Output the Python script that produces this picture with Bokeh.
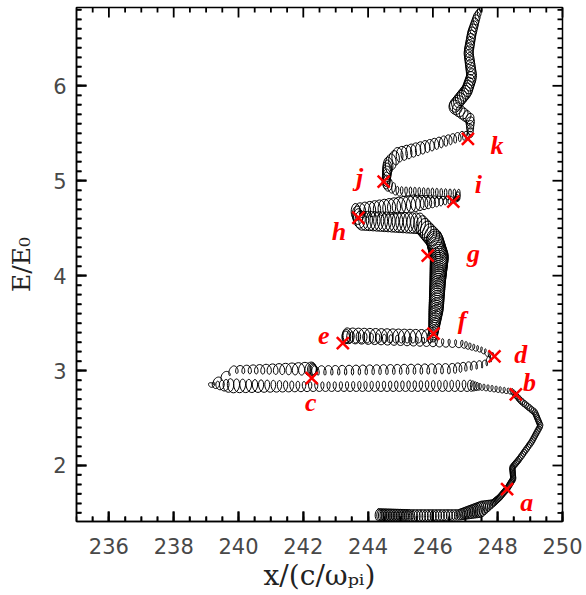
import numpy as np
from bokeh.plotting import figure
from bokeh.models import SingleIntervalTicker, Range1d
from bokeh.core.properties import value
from bokeh.embed import file_html
from bokeh.resources import INLINE

# Guiding-centre path of the ion, x in c/omega_pi, energy in E0 (time ordered)
gc_x = [244.30, 245.30, 246.80, 247.50, 247.85, 248.05, 248.30, 248.48, 248.45, 248.65,
        249.05, 249.32, 249.15, 248.72, 248.45, 247.45, 247.15, 242.40, 239.75, 239.10,
        239.85, 242.25, 242.35, 246.60, 247.60, 247.85, 247.50, 246.90, 243.30, 243.35,
        246.00, 246.10, 246.15, 246.20, 246.05, 245.60, 243.75, 243.60, 245.40, 246.70,
        246.80, 244.90, 244.55, 244.60, 244.90, 246.90, 247.15, 247.15, 246.65, 247.05,
        247.20, 247.10, 247.20, 247.35, 247.50]
gc_e = [1.48, 1.47, 1.48, 1.54, 1.60, 1.66, 1.76, 1.86, 1.98, 2.06,
        2.25, 2.42, 2.56, 2.68, 2.78, 2.83, 2.84, 2.83, 2.84, 2.85,
        3.01, 3.02, 3.00, 3.02, 3.07, 3.15, 3.22, 3.28, 3.35, 3.37,
        3.36, 3.65, 3.95, 4.20, 4.38, 4.55, 4.58, 4.68, 4.76, 4.80,
        4.85, 4.89, 4.98, 5.15, 5.27, 5.47, 5.48, 5.65, 5.78, 5.95,
        6.10, 6.35, 6.55, 6.72, 6.83]
# Gyration half-width (x) and half-height (E) at each path point
gyro_dx = [0.12, 0.12, 0.11, 0.13, 0.08, 0.08, 0.08, 0.08, 0.08, 0.08,
           0.08, 0.08, 0.08, 0.08, 0.06, 0.06, 0.10, 0.09, 0.14, 0.05,
           0.08, 0.15, 0.08, 0.09, 0.05, 0.05, 0.05, 0.07, 0.12, 0.14,
           0.13, 0.22, 0.24, 0.28, 0.26, 0.20, 0.18, 0.13, 0.18, 0.05,
           0.07, 0.07, 0.12, 0.14, 0.14, 0.07, 0.08, 0.14, 0.18, 0.16,
           0.15, 0.14, 0.13, 0.10, 0.04]
gyro_de = [0.065, 0.065, 0.055, 0.085, 0.04, 0.035, 0.035, 0.035, 0.035, 0.035,
           0.035, 0.035, 0.035, 0.035, 0.03, 0.035, 0.06, 0.05, 0.075, 0.02,
           0.04, 0.07, 0.05, 0.055, 0.04, 0.04, 0.03, 0.04, 0.065, 0.08,
           0.07, 0.09, 0.10, 0.11, 0.11, 0.11, 0.10, 0.08, 0.09, 0.03,
           0.06, 0.05, 0.08, 0.10, 0.08, 0.05, 0.04, 0.06, 0.07, 0.08,
           0.08, 0.07, 0.07, 0.06, 0.03]
# Number of gyrations between consecutive path points
n_gyr = [20, 18, 14, 6, 6, 8, 8, 9, 6, 10,
         9, 8, 8, 6, 8, 4, 25, 14, 5, 3,
         12, 4, 20, 6, 2, 3, 5, 18, 2, 15,
         12, 12, 12, 9, 6, 16, 3, 12, 10, 3,
         14, 3, 6, 3, 14, 2, 5, 5, 7, 5,
         7, 6, 5, 3]

# Marked times along the orbit
mark_names = ["a", "b", "c", "d", "e", "f", "g", "h", "i", "j", "k"]
mark_x = [248.29, 248.56, 242.26, 247.90, 243.22, 246.02, 245.84, 243.70, 246.63, 244.48, 247.08]
mark_e = [1.75, 2.75, 2.92, 3.15, 3.29, 3.39, 4.21, 4.61, 4.78, 4.99, 5.44]
name_x = [248.90, 248.98, 242.23, 248.71, 242.63, 246.90, 247.25, 243.10, 247.40, 243.74, 247.98]
name_e = [1.61, 2.87, 2.66, 3.17, 3.37, 3.53, 4.23, 4.47, 4.96, 5.03, 5.37]

x_lo, x_hi = 235.0, 250.0
e_lo, e_hi = 1.41, 6.825

W, H = 586, 595
B_LEFT, B_RIGHT, B_TOP, B_BOTTOM = 76, 24, 7, 74


def orbit(xs, es, dxs, des, loops, per_loop=20):
    """Superpose the gyration on the guiding-centre path."""
    ox, oe = [], []
    phase = 0.0
    for i, n in enumerate(loops):
        m = max(int(n * per_loop), 16)
        t = np.arange(m) / m
        gx = xs[i] + (xs[i + 1] - xs[i]) * t
        ge = es[i] + (es[i + 1] - es[i]) * t
        rx = dxs[i] + (dxs[i + 1] - dxs[i]) * t
        re = des[i] + (des[i + 1] - des[i]) * t
        th = phase + 2 * np.pi * n * t
        ox.append(gx + rx * np.sin(th))
        oe.append(ge + re * np.cos(th))
        phase += 2 * np.pi * n
    ox.append([xs[-1] + dxs[-1] * np.sin(phase)])
    oe.append([es[-1] + des[-1] * np.cos(phase)])
    return np.concatenate(ox), np.concatenate(oe)


orb_x, orb_e = orbit(gc_x, gc_e, gyro_dx, gyro_de, n_gyr)

p = figure(width=W, height=H, x_range=Range1d(x_lo, x_hi), y_range=Range1d(e_lo, e_hi),
           output_backend="svg", toolbar_location=None,
           min_border_left=B_LEFT, min_border_right=B_RIGHT,
           min_border_top=B_TOP, min_border_bottom=B_BOTTOM)
p.outline_line_color = "black"
p.outline_line_width = 1.5
p.xgrid.visible = False
p.ygrid.visible = False

for ax in p.xaxis + p.yaxis:
    ax.axis_line_color = "black"
    ax.axis_line_width = 1.5
    ax.major_tick_in = 10
    ax.major_tick_out = 0
    ax.minor_tick_in = 5
    ax.minor_tick_out = 0
    ax.major_tick_line_color = "black"
    ax.minor_tick_line_color = "black"
    ax.major_tick_line_width = 2
    ax.minor_tick_line_width = 1.5
    ax.major_label_text_font = "DejaVu Sans"
    ax.major_label_text_font_size = "21px"
    ax.major_label_text_color = "#484848"
    ax.axis_label_text_font = "DejaVu Serif"
    ax.axis_label_text_font_style = "normal"
    ax.axis_label_text_color = "#222222"

p.xaxis.ticker = SingleIntervalTicker(interval=2, num_minor_ticks=4)
p.yaxis.ticker = SingleIntervalTicker(interval=1, num_minor_ticks=10)
p.xaxis.major_label_standoff = 16
p.yaxis.major_label_standoff = 10

p.xaxis.axis_label = "x/(c/ωₚᵢ)"
p.yaxis.axis_label = "E/E₀"
p.xaxis.axis_label_text_font_size = "28px"
p.yaxis.axis_label_text_font_size = "25px"
p.xaxis.axis_label_standoff = 2
p.yaxis.axis_label_standoff = 14

p.line(orb_x.tolist(), orb_e.tolist(), line_color="black", line_width=1.0)

p.scatter(mark_x, mark_e, marker="x", size=17, line_color="#ff0000", line_width=2.5)
p.text(name_x, name_e, text=mark_names, text_color="#ff0000",
       text_font=value("Liberation Serif"), text_font_style="bold italic",
       text_font_size="26px", text_align="center", text_baseline="middle")

# Inward ticks on all four edges of the frame, drawn on top of everything
frame_w = W - B_LEFT - B_RIGHT
frame_h = H - B_TOP - B_BOTTOM
px_x = (x_hi - x_lo) / frame_w      # data units per pixel, horizontal
px_e = (e_hi - e_lo) / frame_h      # data units per pixel, vertical

x_major = [float(v) for v in np.arange(236, 251, 2)]
x_minor = [float(v) for v in np.setdiff1d(np.arange(235.5, 250.0, 0.5), x_major)]
e_major = [float(v) for v in np.arange(2, 7, 1)]
e_minor = [float(v) for v in np.setdiff1d(np.round(np.arange(1.5, 6.85, 0.1), 1), e_major)]

tick_xs, tick_es = [], []
for xs_, ln in ((x_major, 10), (x_minor, 5)):
    for x in xs_:
        tick_xs += [[x, x], [x, x]]
        tick_es += [[e_hi, e_hi - ln * px_e], [e_lo, e_lo + ln * px_e]]
for es_, ln in ((e_major, 10), (e_minor, 5)):
    for e in es_:
        tick_xs += [[x_hi, x_hi - ln * px_x], [x_lo, x_lo + ln * px_x]]
        tick_es += [[e, e], [e, e]]
p.multi_line(tick_xs, tick_es, line_color="black", line_width=1.8, level="overlay")

open("out.html", "w").write(file_html(p, INLINE))
